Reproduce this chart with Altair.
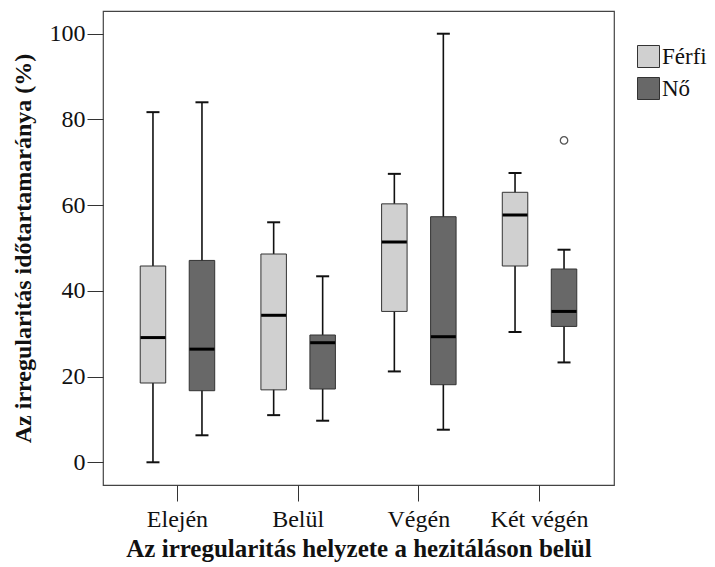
import altair as alt
import pandas as pd

categories = ["Elején", "Belül", "Végén", "Két végén"]
groups = ["Férfi", "Nő"]

ferfi_min = [0.0, 11.0, 21.2, 30.4]
ferfi_q1 = [18.5, 16.9, 35.2, 45.8]
ferfi_med = [29.1, 34.3, 51.4, 57.7]
ferfi_q3 = [45.8, 48.6, 60.3, 63.0]
ferfi_max = [81.7, 56.0, 67.3, 67.5]

no_min = [6.3, 9.7, 7.6, 23.3]
no_q1 = [16.7, 17.1, 18.1, 31.7]
no_med = [26.4, 27.9, 29.3, 35.2]
no_q3 = [47.1, 29.7, 57.3, 45.1]
no_max = [84.0, 43.4, 100.0, 49.6]

outlier_cat = ["Két végén"]
outlier_grp = ["Nő"]
outlier_val = [75.1]

rows = []
for g, mn, q1, md, q3, mx in [
    ("Férfi", ferfi_min, ferfi_q1, ferfi_med, ferfi_q3, ferfi_max),
    ("Nő", no_min, no_q1, no_med, no_q3, no_max),
]:
    for i, c in enumerate(categories):
        rows.append({"cat": c, "grp": g, "min": mn[i], "q1": q1[i],
                     "med": md[i], "q3": q3[i], "max": mx[i]})
df = pd.DataFrame(rows)
out_df = pd.DataFrame({"cat": outlier_cat, "grp": outlier_grp, "val": outlier_val})

FONT = "Liberation Serif"

x_enc = alt.X("cat:N", sort=categories,
              scale=alt.Scale(domain=categories, paddingInner=0, paddingOuter=0.117),
              axis=alt.Axis(title="Az irregularitás helyzete a hezitáláson belül",
                            labelAngle=0, tickSize=16, tickColor="#333", domain=False,
                            labelFont=FONT, labelFontSize=24, labelColor="#111",
                            labelPadding=6, titleFont=FONT, titleFontSize=25,
                            titleFontWeight="bold", titleColor="#111", titlePadding=5,
                            grid=False))
xo_enc = alt.XOffset("grp:N", sort=groups,
                     scale=alt.Scale(domain=groups, paddingInner=0.48, paddingOuter=0.4716))
y_scale = alt.Scale(domain=[-5.3, 105.3], nice=False, zero=False)
y_axis = alt.Axis(title="Az irregularitás időtartamaránya (%)", values=[0, 20, 40, 60, 80, 100],
                  tickSize=16, tickColor="#333", domain=False, grid=False,
                  labelFont=FONT, labelFontSize=24, labelColor="#111", labelPadding=2,
                  titleFont=FONT, titleFontSize=24, titleFontWeight="bold",
                  titleColor="#111", titlePadding=14)

base = alt.Chart(df)

whisker = base.mark_rule(color="#111", strokeWidth=1.6).encode(
    x=x_enc, xOffset=xo_enc,
    y=alt.Y("min:Q", scale=y_scale, axis=y_axis), y2="max:Q")

boxes = base.mark_bar(stroke="#333", strokeWidth=1, opacity=1).encode(
    x=x_enc, xOffset=xo_enc,
    y=alt.Y("q1:Q", scale=y_scale, axis=y_axis), y2="q3:Q",
    color=alt.Color("grp:N", sort=groups,
                    scale=alt.Scale(domain=groups, range=["#d0d0d0", "#686868"]),
                    legend=alt.Legend(title=None, orient="none", legendX=534, legendY=34,
                                      symbolType="square", symbolSize=484,
                                      symbolStrokeColor="#333", symbolStrokeWidth=1,
                                      symbolOpacity=1, labelFont=FONT, labelFontSize=23,
                                      labelColor="#111", labelOffset=2, rowPadding=5,
                                      padding=0)))

medians = base.mark_tick(color="#000", thickness=3, size=25, opacity=1).encode(
    x=x_enc, xOffset=xo_enc, y=alt.Y("med:Q", scale=y_scale, axis=y_axis))

cap_lo = base.mark_tick(color="#111", thickness=2, size=13, opacity=1).encode(
    x=x_enc, xOffset=xo_enc, y=alt.Y("min:Q", scale=y_scale, axis=y_axis))
cap_hi = base.mark_tick(color="#111", thickness=2, size=13, opacity=1).encode(
    x=x_enc, xOffset=xo_enc, y=alt.Y("max:Q", scale=y_scale, axis=y_axis))

outliers = alt.Chart(out_df).mark_point(shape="circle", filled=False, color="#555",
                                        strokeWidth=1.3, size=55, opacity=1).encode(
    x=x_enc, xOffset=xo_enc, y=alt.Y("val:Q", scale=y_scale, axis=y_axis))

chart = alt.layer(whisker, boxes, medians, cap_lo, cap_hi, outliers).properties(
    width=511, height=474,
    autosize=alt.AutoSizeParams(type="none"),
    padding={"left": 103, "top": 11, "right": 101, "bottom": 82},
    background="white",
).configure_view(stroke="#444", strokeWidth=1.2)

chart.save("out.html", embed_options={"renderer": "svg", "actions": False})
